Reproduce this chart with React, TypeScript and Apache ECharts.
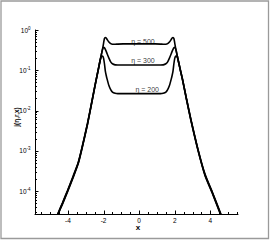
import React, { useEffect, useRef } from 'react';
import * as echarts from 'echarts';

// ---------- data ----------
const xValues = [
  -4.58, -4.3, -4.02, -3.7, -3.42, -3.22, -2.9, -2.66, -2.43, -2.3, -2.2, -2.15, -2.1, -2.05, -2.0,
  -1.95, -1.9, -1.85, -1.8, -1.7, -1.6, -1.5, -1.35, -1.2, -0.9, -0.5, 0, 0.5, 0.9, 1.2, 1.35, 1.5,
  1.6, 1.7, 1.8, 1.85, 1.9, 1.95, 2.0, 2.05, 2.1, 2.15, 2.2, 2.3, 2.43, 2.66, 2.9, 3.3, 3.7, 4.1, 4.6,
];

const eta500 = [
  2.65e-5, 5.2e-5, 1.04e-4, 2.4e-4, 5.2e-4, 1.16e-3, 4.85e-3, 0.0166, 0.0545, 0.103, 0.17, 0.216,
  0.275, 0.351, 0.468, 0.617, 0.653, 0.631, 0.582, 0.501, 0.457, 0.442, 0.442, 0.447, 0.452, 0.452,
  0.452, 0.452, 0.452, 0.447, 0.442, 0.442, 0.457, 0.501, 0.582, 0.631, 0.653, 0.617, 0.468, 0.351,
  0.275, 0.216, 0.17, 0.108, 0.061, 0.0195, 6.2e-3, 1.1e-3, 2.6e-4, 9.6e-5, 2.6e-5,
];

const eta300 = [
  2.57e-5, 5.0e-5, 1.0e-4, 2.3e-4, 5.0e-4, 1.12e-3, 4.7e-3, 0.0162, 0.0537, 0.102, 0.17, 0.216,
  0.275, 0.339, 0.372, 0.363, 0.331, 0.295, 0.257, 0.2, 0.162, 0.145, 0.136, 0.135, 0.135, 0.135,
  0.135, 0.135, 0.135, 0.135, 0.136, 0.145, 0.162, 0.2, 0.257, 0.295, 0.331, 0.363, 0.372, 0.339,
  0.275, 0.216, 0.17, 0.107, 0.06, 0.019, 6.0e-3, 1.07e-3, 2.5e-4, 9.3e-5, 2.5e-5,
];

const eta200 = [
  2.5e-5, 4.8e-5, 9.6e-5, 2.2e-4, 4.8e-4, 1.08e-3, 4.55e-3, 0.0158, 0.053, 0.101, 0.17, 0.204,
  0.224, 0.226, 0.2, 0.145, 0.0955, 0.0741, 0.0603, 0.0417, 0.0331, 0.0288, 0.0269, 0.0263, 0.0263,
  0.0263, 0.0263, 0.0263, 0.0263, 0.0263, 0.0269, 0.0288, 0.0331, 0.0417, 0.0603, 0.0741, 0.0955,
  0.145, 0.2, 0.226, 0.224, 0.204, 0.17, 0.106, 0.059, 0.0185, 5.8e-3, 1.04e-3, 2.4e-4, 9.0e-5, 2.4e-5,
];

const curveLabels = ['η = 500', 'η = 300', 'η = 200'];
const curveLabelX = [0.21, 0.21, 0.45];
const curveLabelY = [0.51, 0.172, 0.0332];

const xMajorTicks = [-4, -2, 0, 2, 4];
const xTickLabels = ['-4', '-2', '0', '2', '4'];
const xMinorTicks = [-5.5, -5, -4.5, -3.5, -3, -2.5, -1.5, -1, -0.5, 0.5, 1, 1.5, 2.5, 3, 3.5, 4.5, 5, 5.5];

const yMajorTicks = [1, 0.1, 0.01, 0.001, 0.0001];
const yTickExponents = ['0', '-1', '-2', '-3', '-4'];
const yMantissas = [2, 3, 4, 5, 6, 7, 8, 9];
const yDecades = [0.1, 0.01, 0.001, 0.0001, 0.00001];

const X_MIN = -5.85;
const X_MAX = 5.55;
const Y_MIN = 2.685e-5;
const Y_MAX = 1;

const FONT = '"Liberation Sans", Arial, Helvetica, sans-serif';

export default function App() {
  const ref = useRef<HTMLDivElement>(null);

  useEffect(() => {
    if (!ref.current) return;
    const chart = echarts.init(ref.current, undefined, { renderer: 'svg' });

    const yMinor: number[] = [];
    yDecades.forEach((d) => {
      yMantissas.forEach((m) => {
        const v = m * d;
        if (v >= Y_MIN && v < Y_MAX) yMinor.push(v);
      });
    });

    const yTickData = [
      ...yMajorTicks.map((v) => [X_MIN, v, 1]),
      ...yMinor.map((v) => [X_MIN, v, 0]),
    ];
    const xTickData = [
      ...xMajorTicks.map((v) => [v, Y_MIN, 1]),
      ...xMinorTicks.map((v) => [v, Y_MIN, 0]),
    ];

    const curveSeries = [eta500, eta300, eta200].map((vals, k) => ({
      type: 'line',
      name: curveLabels[k],
      data: xValues.map((x, i) => [x, vals[i]]),
      showSymbol: false,
      symbol: 'none',
      smooth: 0.2,
      clip: true,
      itemStyle: { color: '#000' },
      lineStyle: { color: '#000', width: 1.6 },
      z: 3,
    }));

    chart.setOption({
      animation: false,
      backgroundColor: '#fff',
      color: ['#000'],
      grid: { left: 35, top: 30, width: 203, height: 184, containLabel: false },
      xAxis: {
        type: 'value',
        min: X_MIN,
        max: X_MAX,
        axisLine: { show: true, onZero: false, lineStyle: { color: '#000', width: 1 } },
        axisTick: { show: false },
        axisLabel: { show: false },
        splitLine: { show: false },
      },
      yAxis: {
        type: 'log',
        min: Y_MIN,
        max: Y_MAX,
        axisLine: { show: true, onZero: false, lineStyle: { color: '#000', width: 1 } },
        axisTick: { show: false },
        axisLabel: { show: false },
        splitLine: { show: false },
        minorTick: { show: false },
      },
      graphic: [
        {
          type: 'rect',
          shape: { x: 1, y: 1, width: 267.5, height: 237.5 },
          style: { fill: 'none', stroke: '#9a9a9a', lineWidth: 1.3 },
          silent: true,
        },
        {
          type: 'text',
          x: 138,
          y: 227,
          style: {
            text: 'x',
            fill: '#000',
            font: `bold 8px ${FONT}`,
            align: 'center',
            verticalAlign: 'middle',
          },
        },
        {
          type: 'text',
          x: 16,
          y: 117,
          rotation: Math.PI / 2,
          style: {
            text: 'j(η,r,x)',
            fill: '#000',
            font: `bold 6.5px ${FONT}`,
            align: 'center',
            verticalAlign: 'middle',
          },
        },
      ],
      series: [
        ...curveSeries,
        {
          type: 'scatter',
          name: 'curveLabels',
          data: curveLabelX.map((x, i) => [x, curveLabelY[i]]),
          symbolSize: 0,
          silent: true,
          itemStyle: { color: '#000' },
          label: {
            show: true,
            position: 'inside',
            formatter: (p: any) => curveLabels[p.dataIndex],
            color: '#000',
            fontFamily: FONT,
            fontSize: 7,
            fontWeight: 'normal',
          },
          z: 5,
        },
        {
          type: 'custom',
          name: 'yTicks',
          data: yTickData,
          encode: { x: 0, y: 1 },
          silent: true,
          itemStyle: { color: '#000' },
          renderItem: (_p: any, api: any) => {
            const pt = api.coord([api.value(0), api.value(1)]);
            const len = api.value(2) ? 3.5 : 2;
            const y = Math.round(pt[1]) + 0.5;
            return {
              type: 'line',
              shape: { x1: pt[0], y1: y, x2: pt[0] + len, y2: y },
              style: { stroke: '#000', lineWidth: 1 },
            };
          },
        },
        {
          type: 'custom',
          name: 'xTicks',
          data: xTickData,
          encode: { x: 0, y: 1 },
          silent: true,
          itemStyle: { color: '#000' },
          renderItem: (_p: any, api: any) => {
            const pt = api.coord([api.value(0), api.value(1)]);
            const len = api.value(2) ? 3.5 : 2;
            const x = Math.round(pt[0]) + 0.5;
            return {
              type: 'line',
              shape: { x1: x, y1: pt[1], x2: x, y2: pt[1] - len },
              style: { stroke: '#000', lineWidth: 1 },
            };
          },
        },
        {
          type: 'custom',
          name: 'yLabels',
          data: yMajorTicks.map((v) => [X_MIN, v]),
          encode: { x: 0, y: 1 },
          silent: true,
          itemStyle: { color: '#000' },
          renderItem: (p: any, api: any) => {
            const pt = api.coord([api.value(0), api.value(1)]);
            return {
              type: 'text',
              x: pt[0] - 4.5,
              y: pt[1],
              style: {
                text: `{b|10}{s|${yTickExponents[p.dataIndex]}}`,
                align: 'right',
                verticalAlign: 'middle',
                fill: '#000',
                rich: {
                  b: { fontSize: 6.5, fontFamily: FONT, fill: '#000', lineHeight: 9 },
                  s: { fontSize: 4.5, fontFamily: FONT, fill: '#000', lineHeight: 5, verticalAlign: 'top' },
                },
              },
            };
          },
        },
        {
          type: 'custom',
          name: 'xLabels',
          data: xMajorTicks.map((v) => [v, Y_MIN]),
          encode: { x: 0, y: 1 },
          silent: true,
          itemStyle: { color: '#000' },
          renderItem: (p: any, api: any) => {
            const pt = api.coord([api.value(0), api.value(1)]);
            return {
              type: 'text',
              x: pt[0],
              y: pt[1] + 2.5,
              style: {
                text: xTickLabels[p.dataIndex],
                fill: '#000',
                font: `6.5px ${FONT}`,
                align: 'center',
                verticalAlign: 'top',
              },
            };
          },
        },
      ],
    } as any);

    return () => chart.dispose();
  }, []);

  return (
    <div
      ref={ref}
      style={{ position: 'fixed', left: 0, top: 0, width: 271, height: 241, background: '#fff' }}
    />
  );
}
